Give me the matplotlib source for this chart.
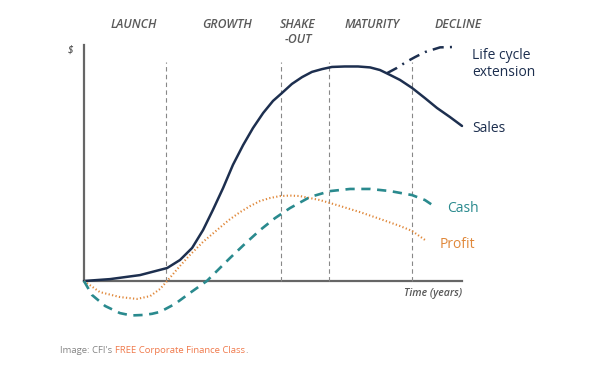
import matplotlib
matplotlib.use("Agg")
import matplotlib.pyplot as plt

plt.rcParams['font.family'] = ['Open Sans', 'DejaVu Sans']

# curves (time in years, value in $)
sales_t = [0, 0.69, 1.48, 2.20, 2.54, 2.86, 3.15, 3.41, 3.68, 3.94, 4.21, 4.47,
           4.74, 5.00, 5.24, 5.50, 5.77, 6.03, 6.30, 6.56, 6.90, 7.25, 7.57,
           7.83, 8.10, 8.36, 8.68, 9.02, 9.34, 9.68, 10.0]
sales_v = [0, 0.08, 0.25, 0.55, 0.89, 1.40, 2.16, 3.01, 3.94, 4.92, 5.76, 6.48,
           7.12, 7.63, 7.97, 8.35, 8.64, 8.86, 8.98, 9.07, 9.09, 9.09, 9.05,
           8.94, 8.73, 8.52, 8.18, 7.75, 7.33, 6.95, 6.57]

ext_t = [8.02, 8.28, 8.52, 8.76, 9.02, 9.42, 9.89]
ext_v = [8.81, 9.03, 9.28, 9.49, 9.70, 9.90, 9.92]

profit_t = [0, 0.42, 0.95, 1.40, 1.75, 2.01, 2.20, 2.54, 2.80, 3.15, 3.52, 3.83,
            4.13, 4.40, 4.66, 4.93, 5.19, 5.45, 5.71, 6.24, 6.77, 7.30, 7.83,
            8.36, 8.68, 9.02]
profit_v = [0, -0.47, -0.68, -0.76, -0.64, -0.34, 0, 0.64, 1.10, 1.66, 2.16, 2.58,
            2.92, 3.18, 3.39, 3.52, 3.60, 3.62, 3.60, 3.43, 3.18, 2.92, 2.63,
            2.33, 2.12, 1.74]

cash_t = [0, 0.21, 0.56, 0.95, 1.25, 1.56, 1.80, 2.01, 2.41, 2.80, 3.25, 3.86,
          4.26, 4.66, 5.05, 5.45, 5.98, 6.51, 7.04, 7.57, 8.10, 8.68, 9.02, 9.29]
cash_v = [0, -0.59, -1.06, -1.36, -1.46, -1.44, -1.39, -1.31, -0.97, -0.51, 0,
          0.97, 1.58, 2.16, 2.66, 3.09, 3.56, 3.81, 3.90, 3.90, 3.81, 3.64,
          3.43, 3.14]

phase_bounds = [2.17, 5.21, 6.48, 8.68]
phase_names = ['LAUNCH', 'GROWTH', 'SHAKE\n-OUT', 'MATURITY', 'DECLINE']
phase_centers = [1.32, 3.78, 5.66, 7.62, 9.89]

navy = '#1d2f4f'
orange = '#e0883a'
teal = '#2a8a8e'
grey = '#5a5a5a'

fig = plt.figure(figsize=(6, 3.77), dpi=100)
ax = fig.add_axes([0, 0, 1, 1])
ax.set_xlim(-2.222, 13.651)
ax.set_ylim(-4.068, 11.907)
ax.axis('off')

# axes lines
ax.plot([0, 0], [0, 10.0], color='#666666', lw=1.6)
ax.plot([0, 10.0], [0, 0], color='#666666', lw=1.6)

for b in phase_bounds:
    ax.plot([b, b], [0, 9.28], color='#888888', lw=0.8, ls=(0, (4, 3)))

for name, c in zip(phase_names, phase_centers):
    ax.text(c, 11.13, name, ha='center', va='top', fontsize=8.8, style='italic',
            fontweight='semibold', color=grey, linespacing=1.15)

ax.plot(sales_t, sales_v, color=navy, lw=1.8, solid_capstyle='round',
        solid_joinstyle='round')
ax.plot(ext_t, ext_v, color=navy, lw=1.8, ls=(0, (4.5, 2.5, 0.8, 2.5)))
ax.plot(profit_t, profit_v, color=orange, lw=1.5, ls=(0, (0.6, 1.1)))
ax.plot(cash_t, cash_v, color=teal, lw=1.9, ls=(0, (3.5, 2.5)))

ax.text(-0.37, 9.79, '$', ha='center', va='center', fontsize=7, style='italic',
        fontweight='semibold', color=grey)
ax.text(10.0, -0.55, 'Time (years)', ha='right', va='center', fontsize=7.6,
        style='italic', fontweight='semibold', color=grey)

ax.text(10.26, 9.19, 'Life cycle\nextension', ha='left', va='center',
        fontsize=10, color=navy, linespacing=1.15)
ax.text(10.26, 6.48, 'Sales', ha='left', va='center', fontsize=10, color=navy)
ax.text(9.60, 3.09, 'Cash', ha='left', va='center', fontsize=10, color=teal)
ax.text(9.42, 1.53, 'Profit', ha='left', va='center', fontsize=10, color=orange)

t1 = ax.text(-0.63, -2.93, "Image: CFI's ", ha='left', va='center',
             fontsize=6.8, color='#858585')
t2 = ax.annotate('FREE Corporate Finance Class', xy=(1, 0), xycoords=t1,
                 va='bottom', ha='left', fontsize=6.8, color='#f07a4c')
ax.annotate('.', xy=(1, 0), xycoords=t2, va='bottom', ha='left', fontsize=6.8,
            color='#858585')

fig.savefig('out.png', dpi=100, facecolor='white')
